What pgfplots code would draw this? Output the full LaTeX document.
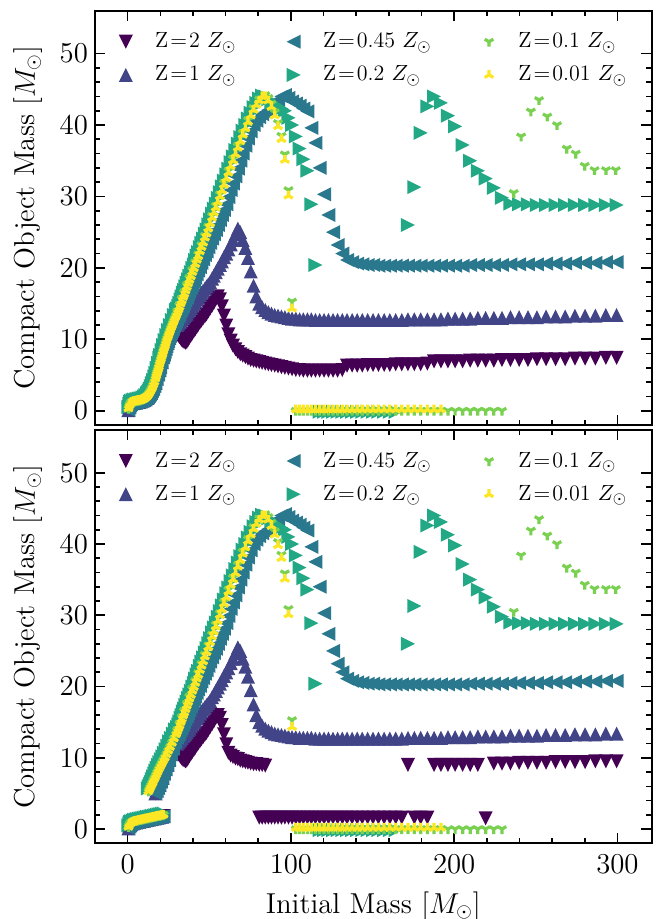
\documentclass[border=0pt]{standalone}
\usepackage{pgfplots}
\usepackage{pgfplotstable}
\pgfplotsset{compat=1.18}
\definecolor{c0}{HTML}{440154}
\definecolor{c1}{HTML}{414487}
\definecolor{c2}{HTML}{2A788E}
\definecolor{c3}{HTML}{22A884}
\definecolor{c4}{HTML}{7AD151}
\definecolor{c5}{HTML}{FDE725}
\pgfdeclareplotmark{mtd}{\pgfpathmoveto{\pgfpoint{0pt}{-\pgfplotmarksize}}\pgfpathlineto{\pgfpoint{-\pgfplotmarksize}{\pgfplotmarksize}}\pgfpathlineto{\pgfpoint{\pgfplotmarksize}{\pgfplotmarksize}}\pgfpathclose\pgfusepathqfill}
\pgfdeclareplotmark{mtu}{\pgfpathmoveto{\pgfpoint{0pt}{\pgfplotmarksize}}\pgfpathlineto{\pgfpoint{-\pgfplotmarksize}{-\pgfplotmarksize}}\pgfpathlineto{\pgfpoint{\pgfplotmarksize}{-\pgfplotmarksize}}\pgfpathclose\pgfusepathqfill}
\pgfdeclareplotmark{mtl}{\pgfpathmoveto{\pgfpoint{-\pgfplotmarksize}{0pt}}\pgfpathlineto{\pgfpoint{\pgfplotmarksize}{\pgfplotmarksize}}\pgfpathlineto{\pgfpoint{\pgfplotmarksize}{-\pgfplotmarksize}}\pgfpathclose\pgfusepathqfill}
\pgfdeclareplotmark{mtr}{\pgfpathmoveto{\pgfpoint{\pgfplotmarksize}{0pt}}\pgfpathlineto{\pgfpoint{-\pgfplotmarksize}{\pgfplotmarksize}}\pgfpathlineto{\pgfpoint{-\pgfplotmarksize}{-\pgfplotmarksize}}\pgfpathclose\pgfusepathqfill}
\pgfdeclareplotmark{tridown}{\pgfpathmoveto{\pgfpointorigin}\pgfpathlineto{\pgfpointpolar{270}{\pgfplotmarksize}}\pgfpathmoveto{\pgfpointorigin}\pgfpathlineto{\pgfpointpolar{150}{\pgfplotmarksize}}\pgfpathmoveto{\pgfpointorigin}\pgfpathlineto{\pgfpointpolar{30}{\pgfplotmarksize}}\pgfusepathqstroke}
\pgfdeclareplotmark{triup}{\pgfpathmoveto{\pgfpointorigin}\pgfpathlineto{\pgfpointpolar{90}{\pgfplotmarksize}}\pgfpathmoveto{\pgfpointorigin}\pgfpathlineto{\pgfpointpolar{210}{\pgfplotmarksize}}\pgfpathmoveto{\pgfpointorigin}\pgfpathlineto{\pgfpointpolar{330}{\pgfplotmarksize}}\pgfusepathqstroke}

% ---------- early parts, top panel ----------
\pgfplotstableread[row sep=\\]{x y\\
0.5 0.3\\ 1 0.7\\ 1.5 1.0\\ 2 1.15\\ 2.5 1.2\\ 3 1.25\\ 3.5 1.3\\ 4 1.3\\ 4.5 1.35\\ 5 1.35\\ 5.5 1.4\\ 6 1.4\\ 6.5 1.45\\ 7 1.45\\ 7.5 1.5\\ 8 1.5\\ 8.5 1.55\\ 9 1.6\\ 9.5 1.65\\ 10.0 1.7\\ 10.4 1.75\\ 10.9 1.85\\ 11.4 1.95\\ 11.9 2.05\\ 12.4 2.2\\ 13.0 2.4\\ 13.6 2.65\\ 14.2 2.9\\ 14.9 3.2\\ 15.6 3.6\\ 16.3 4.0\\ 17.0 4.5\\ 17.4 4.85\\ 17.8 5.2\\ 18.2 5.5\\ 18.6 5.8\\ 19.0 6.1\\ 19.4 6.5\\ 19.9 6.9\\ 20.3 7.2\\ 20.8 7.6\\ 21.2 7.9\\ 21.7 8.3\\ 22.2 8.7\\ 22.7 9.0\\ 23.2 9.4\\ 23.7 9.8\\ 24.3 10.2\\ 24.8 10.5\\ 25.4 10.9\\ 25.9 11.2\\ 26.5 11.6\\ 27.1 11.9\\ 27.7 12.3\\ 28.3 12.6\\ 29.0 13.0\\ 29.6 13.3\\
}\tEY
\pgfplotstableread[row sep=\\]{x y\\
0.5 0.5\\ 1 0.95\\ 1.5 1.25\\ 2 1.4\\ 3 1.5\\ 4 1.55\\ 5 1.6\\ 6 1.65\\ 7 1.7\\ 8 1.75\\ 9 1.85\\ 10.0 2.0\\ 10.9 2.2\\ 11.9 2.45\\ 12.4 2.6\\ 13.0 2.85\\ 13.6 3.1\\ 14.2 3.45\\ 14.9 3.85\\ 15.6 4.3\\ 16.3 4.8\\ 17.0 5.3\\ 17.8 6.0\\ 18.6 6.7\\ 19.4 7.4\\ 19.9 7.8\\ 20.8 8.5\\ 21.7 9.2\\ 22.7 9.9\\ 23.7 10.6\\ 24.8 11.3\\ 25.9 12.0\\ 27.1 12.7\\ 28.3 13.4\\ 29.6 14.1\\
}\tET
\pgfplotstableread[row sep=\\]{x y\\
0.5 0.1\\ 1 0.5\\ 1.5 0.8\\ 2 0.95\\ 3 1.05\\ 4 1.1\\ 5 1.15\\ 6 1.2\\ 7 1.25\\ 8 1.3\\ 9 1.4\\ 10.0 1.5\\ 10.9 1.6\\ 11.9 1.8\\ 12.4 1.9\\ 13.0 2.1\\ 13.6 2.3\\ 14.2 2.5\\ 14.9 2.8\\ 15.6 3.1\\ 16.3 3.5\\ 17.0 3.9\\ 17.8 4.5\\ 18.6 5.1\\ 19.4 5.7\\ 19.9 6.1\\ 20.8 6.8\\ 21.7 7.5\\ 22.2 7.9\\ 22.7 8.3\\ 23.2 8.7\\ 23.7 9.1\\ 24.3 9.5\\ 24.8 9.8\\ 25.4 10.2\\ 25.9 10.5\\ 26.5 10.9\\ 27.1 11.2\\ 27.7 11.5\\ 28.3 11.9\\ 29.0 12.2\\ 29.6 12.5\\
}\tEB
% ---------- early parts, bottom panel ----------
\pgfplotstableread[row sep=\\]{x y\\
0.5 0.3\\ 1 0.6\\ 1.5 0.8\\ 2 0.9\\ 3 1.0\\ 4 1.1\\ 5 1.15\\ 6 1.2\\ 7 1.25\\ 8 1.3\\ 9 1.35\\ 10 1.4\\ 11 1.45\\ 12 1.5\\ 13 1.55\\ 14 1.6\\ 15 1.65\\ 16 1.7\\ 17 1.75\\ 18 1.8\\ 19 1.85\\ 20 1.9\\ 21 1.95\\ 22 2.0\\
12.7 5.3\\ 13.3 5.6\\ 13.9 5.9\\ 14.5 6.2\\ 15.2 6.5\\ 15.9 6.9\\ 16.6 7.2\\ 17.4 7.6\\ 18.2 8.0\\ 19.0 8.4\\ 19.9 8.8\\ 20.8 9.2\\ 21.7 9.6\\ 22.7 10.0\\ 23.7 10.5\\ 24.8 11.0\\ 25.9 11.5\\ 27.1 12.1\\ 28.3 12.7\\ 29.6 13.3\\
}\tBY
\pgfplotstableread[row sep=\\]{x y\\
0.5 0.5\\ 1 0.8\\ 1.5 1.0\\ 2 1.1\\ 3 1.2\\ 4 1.3\\ 5 1.35\\ 6 1.4\\ 7 1.45\\ 8 1.5\\ 9 1.55\\ 10 1.6\\ 11 1.65\\ 12 1.7\\ 13 1.75\\ 14 1.8\\ 15 1.85\\ 16 1.9\\ 17 1.95\\ 18 2.0\\ 19 2.05\\ 20 2.1\\ 21 2.15\\ 22 2.2\\
12.4 5.7\\ 13.0 6.0\\ 13.6 6.3\\ 14.2 6.6\\ 14.9 7.0\\ 15.6 7.4\\ 16.3 7.8\\ 17.0 8.2\\ 17.8 8.6\\ 18.6 9.0\\ 19.4 9.4\\ 20.3 9.8\\ 21.2 10.2\\ 22.2 10.7\\ 23.2 11.2\\ 24.3 11.7\\ 25.4 12.3\\ 26.5 12.8\\ 27.7 13.4\\ 29.0 14.0\\
}\tBT
\pgfplotstableread[row sep=\\]{x y\\
0.5 0.1\\ 1 0.4\\ 1.5 0.6\\ 2 0.7\\ 3 0.8\\ 4 0.9\\ 5 0.95\\ 6 1.0\\ 7 1.05\\ 8 1.1\\ 9 1.15\\ 10 1.2\\ 11 1.25\\ 12 1.3\\ 13 1.35\\ 14 1.4\\ 15 1.45\\ 16 1.5\\ 17 1.55\\ 18 1.6\\ 19 1.65\\ 20 1.7\\ 21 1.75\\ 22 1.8\\
17.0 5.0\\ 17.8 5.4\\ 18.6 5.8\\ 19.4 6.2\\ 20.3 6.7\\ 21.2 7.2\\ 22.2 7.8\\ 23.2 8.4\\ 24.3 9.0\\ 25.4 9.7\\ 26.5 10.5\\ 27.7 11.3\\ 29.0 12.2\\
}\tBB
% ---------- late parts ----------
\pgfplotstableread[row sep=\\]{x y\\
30.3 13.7\\ 31.0 14.1\\ 31.7 14.5\\ 32.4 15.0\\ 33.1 15.4\\ 33.9 15.9\\ 34.6 16.3\\ 35.4 16.8\\ 36.2 17.3\\ 37.0 17.8\\ 37.8 18.3\\ 38.7 18.8\\ 39.6 19.4\\ 40.5 19.9\\ 41.4 20.5\\ 42.3 21.1\\ 43.2 21.6\\ 44.2 22.3\\ 45.2 22.9\\ 46.2 23.5\\ 47.3 24.2\\ 48.3 24.8\\ 49.4 25.5\\ 50.5 26.2\\ 51.7 27.0\\ 52.8 27.7\\ 54.0 28.4\\ 55.2 29.2\\ 56.5 30.0\\ 57.7 30.8\\ 59.0 31.6\\ 60.4 32.5\\ 61.7 33.3\\ 63.1 34.2\\ 64.5 35.0\\ 66.0 35.9\\ 67.5 36.8\\ 69.0 37.7\\ 70.5 38.6\\ 72.1 39.5\\ 73.7 40.4\\ 75.4 41.3\\ 77.1 42.1\\ 78.8 42.8\\ 80.6 43.4\\ 82.4 44.0\\ 84.3 44.0\\ 86.2 43.4\\ 88.1 42.5\\ 90.1 41.3\\ 92.1 39.8\\ 94.2 38.0\\ 96.3 35.1\\ 98.5 30.1\\ 100.7 14.3\\
103.0 0.15\\ 105.3 0.15\\ 107.6 0.15\\ 110.1 0.15\\ 112.5 0.15\\ 115.0 0.15\\ 117.6 0.15\\ 120.3 0.15\\ 123.0 0.15\\ 125.8 0.15\\ 128.6 0.15\\ 131.5 0.15\\ 134.4 0.15\\ 137.5 0.15\\ 140.6 0.15\\ 143.7 0.15\\ 147.0 0.15\\ 150.3 0.15\\ 153.6 0.15\\ 157.1 0.15\\ 160.6 0.15\\ 164.2 0.15\\ 167.9 0.15\\ 171.7 0.15\\ 175.6 0.15\\ 179.5 0.15\\ 183.6 0.15\\ 187.7 0.15\\ 191.9 0.15\\
}\tLY
\pgfplotstableread[row sep=\\]{x y\\
30.3 13.9\\ 31.7 14.8\\ 33.1 15.7\\ 34.6 16.6\\ 36.2 17.6\\ 37.8 18.6\\ 39.6 19.7\\ 41.4 20.8\\ 43.2 21.9\\ 45.2 23.2\\ 47.3 24.5\\ 49.4 25.8\\ 51.7 27.3\\ 54.0 28.7\\ 56.5 30.3\\ 59.0 31.9\\ 61.7 33.6\\ 64.5 35.3\\ 67.5 37.1\\ 70.5 38.9\\ 73.7 40.7\\ 77.1 42.4\\ 80.6 43.6\\ 84.3 44.2\\ 86.2 43.8\\ 88.1 43.0\\ 90.1 41.8\\ 92.1 40.3\\ 94.2 38.5\\ 96.3 35.9\\ 98.5 30.9\\ 100.7 15.3\\
103.0 0\\ 105.3 0\\ 107.6 0\\ 110.1 0\\ 112.5 0\\ 115.0 0\\ 117.6 0\\ 120.3 0\\ 123.0 0\\ 125.8 0\\ 128.6 0\\ 131.5 0\\ 134.4 0\\ 137.5 0\\ 140.6 0\\ 143.7 0\\ 147.0 0\\ 150.3 0\\ 153.6 0\\ 157.1 0\\ 160.6 0\\ 164.2 0\\ 167.9 0\\ 171.7 0\\ 175.6 0\\ 179.5 0\\ 183.6 0\\ 187.7 0\\ 191.9 0\\ 196.2 0\\ 200.6 0\\ 205.2 0\\ 209.8 0\\ 214.5 0\\ 219.3 0\\ 224.3 0\\ 229.3 0\\
236.5 30.5\\ 241.0 38.4\\ 247.0 41.9\\ 252.0 43.5\\ 257.0 41.2\\ 263.0 40.0\\ 269.0 36.7\\ 274.5 36.0\\ 280.0 34.3\\ 286.0 33.7\\ 293.0 33.7\\ 299.0 33.7\\
}\tLG
\pgfplotstableread[row sep=\\]{x y\\
30.3 14.3\\ 31.0 14.7\\ 31.7 15.1\\ 32.4 15.6\\ 33.1 16.0\\ 33.9 16.5\\ 34.6 16.9\\ 35.4 17.4\\ 36.2 17.9\\ 37.0 18.4\\ 37.8 18.9\\ 38.7 19.4\\ 39.6 20.0\\ 40.5 20.5\\ 41.4 21.1\\ 42.3 21.7\\ 43.2 22.2\\ 44.2 22.9\\ 45.2 23.5\\ 46.2 24.1\\ 47.3 24.8\\ 48.3 25.4\\ 49.4 26.1\\ 50.5 26.8\\ 51.7 27.6\\ 52.8 28.3\\ 54.0 29.0\\ 55.2 29.8\\ 56.5 30.6\\ 57.7 31.4\\ 59.0 32.2\\ 60.4 33.1\\ 61.7 33.9\\ 63.1 34.8\\ 64.5 35.6\\ 66.0 36.5\\ 67.5 37.4\\ 69.0 38.3\\ 70.5 39.2\\ 72.1 40.0\\ 73.7 40.9\\ 75.4 41.7\\ 77.1 42.5\\ 78.8 43.1\\ 80.6 43.7\\ 82.4 44.1\\ 84.3 44.0\\ 86.2 43.6\\ 88.1 43.2\\ 90.1 42.9\\ 92.1 42.6\\ 94.2 42.3\\ 96.3 42.0\\ 98.5 41.0\\ 100.7 40.0\\ 103.0 38.4\\ 105.3 36.7\\ 107.6 35.2\\ 110.1 33.6\\ 112.5 28.9\\ 115.0 20.4\\
117.6 -0.15\\ 120.3 -0.15\\ 123.0 -0.15\\ 125.8 -0.15\\ 128.6 -0.15\\ 131.5 -0.15\\ 134.4 -0.15\\ 137.5 -0.15\\ 140.6 -0.15\\ 143.7 -0.15\\ 147.0 -0.15\\ 150.3 -0.15\\ 153.6 -0.15\\ 157.1 -0.15\\ 160.6 -0.15\\ 164.2 -0.15\\
171.7 26.0\\ 175.6 31.3\\ 179.5 38.9\\ 183.6 42.6\\ 187.7 44.0\\ 191.9 43.1\\ 196.2 41.3\\ 200.6 39.8\\ 205.2 37.2\\ 209.8 35.0\\ 214.5 33.6\\ 219.3 32.5\\ 224.3 31.2\\ 229.3 29.8\\ 234.5 29.0\\ 239.8 28.9\\ 245.2 28.9\\ 250.7 28.8\\ 256.3 28.8\\ 262.1 28.8\\ 268.0 28.8\\ 274.0 28.8\\ 280.2 28.8\\ 286.5 28.8\\ 292.9 28.8\\ 299.5 28.8\\
}\tLT
\pgfplotstableread[row sep=\\]{x y\\
30.3 12.8\\ 31.0 13.2\\ 31.7 13.5\\ 32.4 13.9\\ 33.1 14.2\\ 33.9 14.6\\ 34.6 15.0\\ 35.4 15.4\\ 36.2 15.8\\ 37.0 16.3\\ 37.8 16.7\\ 38.7 17.2\\ 39.6 17.6\\ 40.5 18.1\\ 41.4 18.6\\ 42.3 19.1\\ 43.2 19.6\\ 44.2 20.1\\ 45.2 20.7\\ 46.2 21.2\\ 47.3 21.8\\ 48.3 22.3\\ 49.4 22.9\\ 50.5 23.5\\ 51.7 24.1\\ 52.8 24.7\\ 54.0 25.3\\ 55.2 26.0\\ 56.5 26.7\\ 57.7 27.4\\ 59.0 28.1\\ 60.4 28.9\\ 61.7 29.9\\ 63.1 30.9\\ 64.5 31.8\\ 66.0 32.8\\ 67.5 33.9\\ 69.0 35.0\\ 70.5 36.0\\ 72.1 37.1\\ 73.7 38.1\\ 75.4 39.1\\ 77.1 40.0\\ 78.8 40.6\\ 80.6 41.1\\ 82.4 41.5\\ 84.3 41.8\\ 86.2 42.1\\ 88.1 42.5\\ 90.1 43.0\\ 92.1 43.5\\ 94.2 44.0\\ 96.3 44.2\\ 98.5 43.8\\ 100.7 43.3\\ 103.0 43.0\\ 105.3 42.7\\ 107.6 42.3\\ 110.1 41.9\\ 112.5 39.6\\ 115.0 37.5\\ 117.6 34.0\\ 120.3 30.3\\ 123.0 27.4\\ 125.8 25.0\\ 128.6 23.2\\ 131.5 22.0\\ 134.4 21.1\\ 137.5 20.8\\ 140.6 20.6\\ 143.7 20.5\\ 147.0 20.4\\ 150.3 20.4\\ 153.6 20.3\\ 157.1 20.3\\ 160.6 20.3\\ 164.2 20.3\\ 167.9 20.3\\ 171.7 20.3\\ 175.6 20.3\\ 179.5 20.3\\ 183.6 20.3\\ 187.7 20.3\\ 191.9 20.3\\ 196.2 20.3\\ 200.6 20.3\\ 205.2 20.3\\ 209.8 20.4\\ 214.5 20.4\\ 219.3 20.4\\ 224.3 20.4\\ 229.3 20.4\\ 234.5 20.5\\ 239.8 20.5\\ 245.2 20.5\\ 250.7 20.5\\ 256.3 20.6\\ 262.1 20.6\\ 268.0 20.6\\ 274.0 20.7\\ 280.2 20.7\\ 286.5 20.7\\ 292.9 20.8\\ 299.5 20.8\\
}\tLB
\pgfplotstableread[row sep=\\]{x y\\
30.3 12.0\\ 31.0 12.2\\ 31.7 12.4\\ 32.4 12.6\\ 33.1 12.8\\ 33.9 13.0\\ 34.6 13.2\\ 35.4 13.4\\ 36.2 13.6\\ 37.0 13.9\\ 37.8 14.1\\ 38.7 14.4\\ 39.6 14.7\\ 40.5 15.0\\ 41.4 15.3\\ 42.3 15.6\\ 43.2 15.9\\ 44.2 16.2\\ 45.2 16.5\\ 46.2 16.8\\ 47.3 17.1\\ 48.3 17.4\\ 49.4 17.7\\ 50.5 18.0\\ 51.7 18.5\\ 52.8 18.9\\ 54.0 19.4\\ 55.2 19.9\\ 56.5 20.4\\ 57.7 20.9\\ 59.0 21.5\\ 60.4 22.0\\ 61.7 22.6\\ 63.1 23.3\\ 64.5 23.9\\ 66.0 24.7\\ 67.5 25.5\\ 69.0 25.0\\ 70.5 23.9\\ 72.1 22.8\\ 73.7 21.4\\ 75.4 19.5\\ 77.1 17.5\\ 78.8 16.0\\ 80.6 15.0\\ 82.4 14.5\\ 84.3 14.1\\ 86.2 13.8\\ 88.1 13.6\\ 90.1 13.4\\ 92.1 13.3\\ 94.2 13.2\\ 96.3 13.1\\ 98.5 13.0\\ 100.7 12.9\\ 103.0 12.9\\ 105.3 12.8\\ 107.6 12.8\\ 110.1 12.8\\ 112.5 12.8\\ 115.0 12.7\\ 117.6 12.7\\ 120.3 12.7\\ 123.0 12.7\\ 125.8 12.7\\ 128.6 12.7\\ 131.5 12.7\\ 134.4 12.7\\ 137.5 12.7\\ 140.6 12.7\\ 143.7 12.7\\ 147.0 12.7\\ 150.3 12.7\\ 153.6 12.7\\ 157.1 12.7\\ 160.6 12.7\\ 164.2 12.7\\ 167.9 12.7\\ 171.7 12.8\\ 175.6 12.8\\ 179.5 12.8\\ 183.6 12.8\\ 187.7 12.8\\ 191.9 12.8\\ 196.2 12.9\\ 200.6 12.9\\ 205.2 12.9\\ 209.8 12.9\\ 214.5 13.0\\ 219.3 13.0\\ 224.3 13.0\\ 229.3 13.0\\ 234.5 13.1\\ 239.8 13.1\\ 245.2 13.1\\ 250.7 13.1\\ 256.3 13.2\\ 262.1 13.2\\ 268.0 13.2\\ 274.0 13.3\\ 280.2 13.3\\ 286.5 13.3\\ 292.9 13.4\\ 299.5 13.4\\
}\tLU
\pgfplotstableread[row sep=\\]{x y\\
27.1 11.0\\ 27.7 11.0\\ 28.3 10.9\\ 29.0 10.9\\ 29.6 10.8\\ 30.3 10.7\\ 31.0 10.5\\ 31.7 10.3\\ 32.4 10.1\\ 33.1 9.9\\ 33.9 9.7\\ 34.6 9.6\\ 35.4 9.5\\ 36.2 9.6\\ 37.0 9.9\\ 37.8 10.2\\ 38.7 10.5\\ 39.6 10.8\\ 40.5 11.1\\ 41.4 11.4\\ 42.3 11.7\\ 43.2 12.0\\ 44.2 12.3\\ 45.2 12.6\\ 46.2 12.9\\ 47.3 13.2\\ 48.3 13.5\\ 49.4 13.9\\ 50.5 14.3\\ 51.7 14.7\\ 52.8 15.1\\ 54.0 15.6\\ 55.2 16.0\\ 56.5 15.6\\ 57.7 14.6\\ 59.0 13.3\\ 60.4 11.9\\ 61.7 10.7\\
}\tHump
\pgfplotstableread[row sep=\\]{x y\\
63.1 9.8\\ 64.5 9.1\\ 66.0 8.6\\ 67.5 8.2\\ 69.0 7.9\\ 70.5 7.7\\ 72.1 7.5\\ 73.7 7.3\\ 75.4 7.1\\ 77.1 7.0\\ 78.8 6.9\\ 80.6 6.8\\ 82.4 6.7\\ 84.3 6.6\\ 86.2 6.5\\ 88.1 6.4\\ 90.1 6.3\\ 92.1 6.2\\ 94.2 6.1\\ 96.3 6.0\\ 98.5 5.9\\ 100.7 5.8\\ 103.0 5.7\\ 105.3 5.7\\ 107.6 5.6\\ 110.1 5.6\\ 112.5 5.6\\ 115.0 5.6\\ 117.6 5.6\\ 120.3 5.6\\ 123.0 5.6\\ 125.8 5.6\\ 128.6 5.6\\ 131.5 5.7\\ 134.4 6.3\\ 137.5 6.3\\ 140.6 6.3\\ 143.7 6.3\\ 147.0 6.4\\ 150.3 6.4\\ 153.6 6.4\\ 157.1 6.4\\ 160.6 6.4\\ 164.2 6.5\\ 167.9 6.5\\ 171.7 6.5\\ 175.6 6.5\\ 179.5 6.5\\ 183.6 6.6\\ 187.7 6.9\\ 191.9 6.9\\ 196.2 6.9\\ 200.6 6.9\\ 205.2 6.9\\ 209.8 7.0\\ 214.5 7.0\\ 219.3 7.0\\ 224.3 7.0\\ 229.3 7.1\\ 234.5 7.1\\ 239.8 7.1\\ 245.2 7.1\\ 250.7 7.2\\ 256.3 7.2\\ 262.1 7.2\\ 268.0 7.2\\ 274.0 7.3\\ 280.2 7.3\\ 286.5 7.3\\ 292.9 7.4\\ 299.5 7.4\\
}\tTailTop
\pgfplotstableread[row sep=\\]{x y\\
63.1 10.3\\ 64.5 10.1\\ 66.0 9.9\\ 67.5 9.8\\ 69.0 9.6\\ 70.5 9.5\\ 72.1 9.4\\ 73.7 9.3\\ 75.4 9.2\\ 77.1 9.1\\ 78.8 9.1\\ 80.6 9.0\\ 82.4 9.0\\ 84.3 8.9\\
80.6 1.6\\ 82.4 1.6\\ 84.3 1.6\\ 86.2 1.6\\ 88.1 1.6\\ 90.1 1.6\\ 92.1 1.6\\ 94.2 1.6\\ 96.3 1.6\\ 98.5 1.6\\ 100.7 1.6\\ 103.0 1.6\\ 105.3 1.6\\ 107.6 1.6\\ 110.1 1.6\\ 112.5 1.6\\ 115.0 1.6\\ 117.6 1.6\\ 120.3 1.6\\ 123.0 1.6\\ 125.8 1.6\\ 128.6 1.6\\ 131.5 1.6\\ 134.4 1.6\\ 137.5 1.6\\ 140.6 1.6\\ 143.7 1.6\\ 147.0 1.6\\ 150.3 1.6\\ 153.6 1.6\\ 157.1 1.6\\ 160.6 1.6\\ 164.2 1.6\\ 167.9 1.6\\ 175.6 1.6\\ 179.5 1.6\\ 183.6 1.6\\ 219.3 1.5\\
171.7 9.0\\ 187.7 9.0\\ 191.9 9.0\\ 196.2 9.0\\ 200.6 9.0\\ 205.2 9.0\\ 209.8 9.0\\ 214.5 9.0\\ 224.3 9.2\\ 229.3 9.2\\ 234.5 9.2\\ 239.8 9.3\\ 245.2 9.3\\ 250.7 9.3\\ 256.3 9.3\\ 262.1 9.4\\ 268.0 9.4\\ 274.0 9.4\\ 280.2 9.4\\ 286.5 9.5\\ 292.9 9.5\\ 299.5 9.5\\
}\tTailBot

\pgfplotsset{
  panel/.style={
    scale only axis, width=278.35pt,
    xmin=-20, xmax=321, ymin=-2, ymax=56,
    xtick={0,100,200,300}, minor x tick num=4,
    ytick={0,10,20,30,40,50}, minor y tick num=4,
    tick align=inside, xtick pos=both, ytick pos=both,
    major tick length=5.2pt, minor tick length=2.7pt,
    every tick/.append style={line width=0.8pt, black},
    axis line style={line width=1.1pt},
    tick label style={font=\Large},
    label style={font=\Large},
    ylabel={Compact Object Mass $[M_\odot]$},
    ylabel style={at={(rel axis cs:0,0.5)}, anchor=base, yshift=30pt},
    xticklabel style={yshift=-2.5pt},
    legend columns=3,
    legend style={draw=none, fill=none, at={(rel axis cs:0,1)}, anchor=north west,
      xshift=10pt, yshift=-10.8pt, inner sep=0pt, row sep=7.6pt, font=\fontsize{11}{13}\selectfont,
      nodes={inner sep=0pt},
      /tikz/every odd column/.style={column sep=9.5pt},
      /tikz/every even column/.style={column sep=23.5pt}},
    legend cell align=left,
    legend image code/.code={\path (-5pt,0pt) (5pt,0pt); \draw[##1] plot coordinates {(0pt,0pt)};},
    legend entries={Z\kern1pt=\kern1pt2 $Z_\odot$, Z\kern1pt=\kern1pt0.45 $Z_\odot$, Z\kern1pt=\kern1pt0.1 $Z_\odot$, Z\kern1pt=\kern1pt1 $Z_\odot$, Z\kern1pt=\kern1pt0.2 $Z_\odot$, Z\kern1pt=\kern1pt0.01 $Z_\odot$},
  },
  sZa/.style={only marks, mark=mtd, color=c0, mark size=3.5pt},
  sZb/.style={only marks, mark=mtu, color=c1, mark size=3.5pt},
  sZc/.style={only marks, mark=mtl, color=c2, mark size=3.5pt},
  sZd/.style={only marks, mark=mtr, color=c3, mark size=3.5pt},
  sZe/.style={only marks, mark=tridown, color=c4, mark size=2.5pt, mark options={line width=1.6pt}},
  sZf/.style={only marks, mark=triup, color=c5, mark size=2.5pt, mark options={line width=1.6pt}},
}
\begin{document}
\begin{tikzpicture}
\useasboundingbox (0,0) rectangle (329.5pt,-459.5pt);
\begin{axis}[panel, at={(47.5pt,-212.5pt)}, anchor=south west, height=207.15pt, xticklabels={}]
\addlegendimage{sZa}\addlegendimage{sZc}\addlegendimage{sZe}
\addlegendimage{sZb}\addlegendimage{sZd}\addlegendimage{sZf}
\addplot[sZa, forget plot] table {\tEB};
\addplot[sZa, forget plot] table {\tHump};
\addplot[sZa, forget plot] table {\tTailTop};
\addplot[sZb, forget plot] table {\tEB};
\addplot[sZb, forget plot] table {\tLU};
\addplot[sZc, forget plot] table {\tEB};
\addplot[sZc, forget plot] table {\tLB};
\addplot[sZd, forget plot] table {\tET};
\addplot[sZd, forget plot] table {\tLT};
\addplot[sZe, forget plot] table {\tEY};
\addplot[sZe, forget plot] table {\tLG};
\addplot[sZf, forget plot] table {\tEY};
\addplot[sZf, forget plot] table {\tLY};
\end{axis}
\begin{axis}[panel, at={(47.5pt,-421.65pt)}, anchor=south west, height=206.65pt,
  xlabel={Initial Mass $[M_\odot]$},
  xlabel style={at={(rel axis cs:0.5,0)}, anchor=base, yshift=-35pt}]
\addlegendimage{sZa}\addlegendimage{sZc}\addlegendimage{sZe}
\addlegendimage{sZb}\addlegendimage{sZd}\addlegendimage{sZf}
\addplot[sZa, forget plot] table {\tBB};
\addplot[sZa, forget plot] table {\tHump};
\addplot[sZa, forget plot] table {\tTailBot};
\addplot[sZb, forget plot] table {\tBB};
\addplot[sZb, forget plot] table {\tLU};
\addplot[sZc, forget plot] table {\tBB};
\addplot[sZc, forget plot] table {\tLB};
\addplot[sZd, forget plot] table {\tBT};
\addplot[sZd, forget plot] table {\tLT};
\addplot[sZe, forget plot] table {\tBY};
\addplot[sZe, forget plot] table {\tLG};
\addplot[sZf, forget plot] table {\tBY};
\addplot[sZf, forget plot] table {\tLY};
\end{axis}
\end{tikzpicture}
\end{document}
